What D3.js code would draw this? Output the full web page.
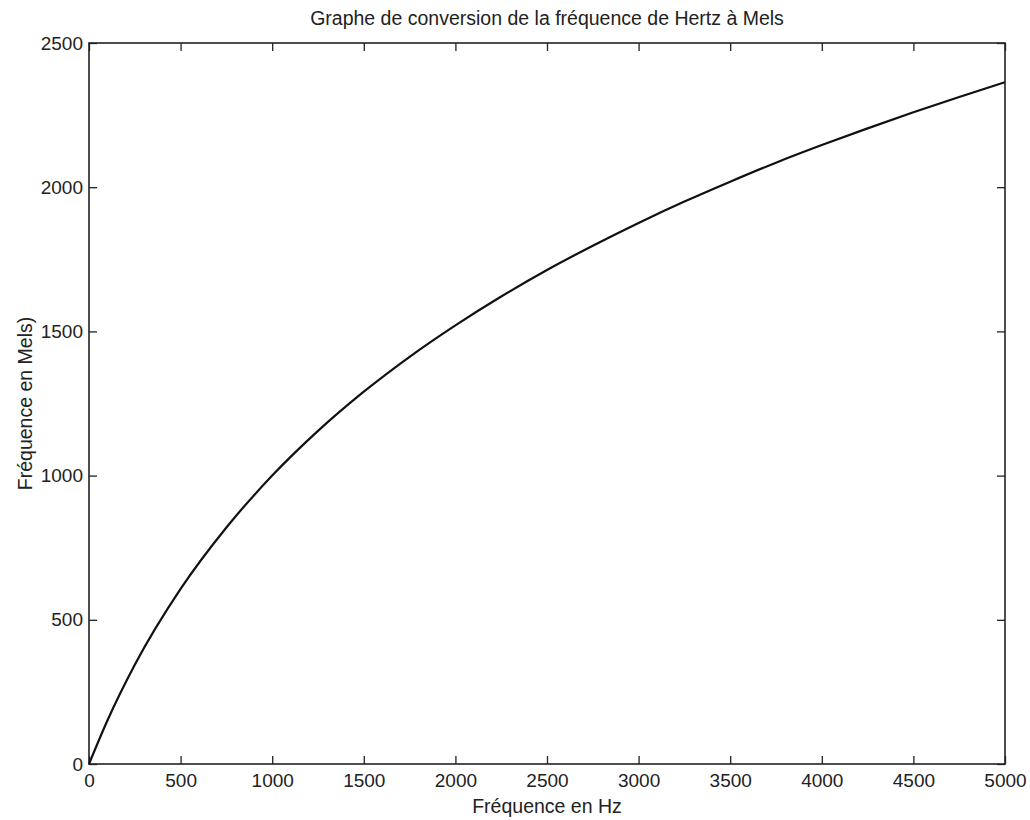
<!DOCTYPE html>
<html>
<head>
<meta charset="utf-8">
<script src="https://cdn.jsdelivr.net/npm/d3@7"></script>
<style>
  body { margin: 0; background: #fff; }
  text { font-family: "Liberation Sans", Arial, sans-serif; fill: #222; }
</style>
</head>
<body>
<svg id="chart"></svg>
<script>
// values (Hz -> Mels)
const hertz = [0, 100, 250, 500, 750, 1000, 1250, 1500, 1750, 2000, 2250, 2500,
    2750, 3000, 3250, 3500, 3750, 4000, 4250, 4500, 4750, 5000];
const mels = [0, 150, 344, 607, 820, 1000, 1155, 1291, 1412, 1521, 1621, 1713,
    1797, 1876, 1950, 2019, 2085, 2146, 2204, 2260, 2313, 2364];
const xTicks = [0, 500, 1000, 1500, 2000, 2500, 3000, 3500, 4000, 4500, 5000];
const yTicks = [0, 500, 1000, 1500, 2000, 2500];

const size = { w: 1030, h: 820 };
const margin = { t: 43, r: 25, b: 56, l: 89 };

const svg = d3.select('svg#chart')
    .attr('width', size.w)
    .attr('height', size.h);

const w = size.w - margin.l - margin.r;
const h = size.h - margin.t - margin.b;

const g = svg.append('g')
    .attr('transform', `translate(${margin.l}, ${margin.t})`);

const x = d3.scaleLinear().domain([0, 5000]).range([0, w]);
const y = d3.scaleLinear().domain([0, 2500]).range([h, 0]);
const fmt = d3.format('d');

// axes with inward ticks, mirrored on top / right like matlab
function styleAxis(sel) {
    sel.select('.domain').remove();
    sel.selectAll('line').attr('stroke', '#222').attr('stroke-width', 1.3);
    sel.selectAll('text').style('font-size', '19px');
}

g.append('g')
    .attr('transform', `translate(0, ${h})`)
    .call(d3.axisBottom(x).tickValues(xTicks).tickFormat(fmt).tickSizeInner(-8).tickSizeOuter(0).tickPadding(10))
    .call(styleAxis);

g.append('g')
    .call(d3.axisTop(x).tickValues(xTicks).tickSizeInner(-8).tickSizeOuter(0).tickFormat(''))
    .call(styleAxis);

g.append('g')
    .call(d3.axisLeft(y).tickValues(yTicks).tickFormat(fmt).tickSizeInner(-8).tickSizeOuter(0).tickPadding(6))
    .call(styleAxis);

g.append('g')
    .attr('transform', `translate(${w}, 0)`)
    .call(d3.axisRight(y).tickValues(yTicks).tickSizeInner(-8).tickSizeOuter(0).tickFormat(''))
    .call(styleAxis);

// box
g.append('rect')
    .attr('width', w)
    .attr('height', h)
    .attr('fill', 'none')
    .attr('stroke', '#222')
    .attr('stroke-width', 1.6);

// the curve
const pts = hertz.map((d, i) => ({ f: d, m: mels[i] }));
g.append('path')
    .datum(pts)
    .attr('fill', 'none')
    .attr('stroke', '#111')
    .attr('stroke-width', 2.2)
    .attr('d', d3.line().x(d => x(d.f)).y(d => y(d.m)).curve(d3.curveMonotoneX));

// labels
svg.append('text')
    .attr('x', margin.l + w / 2)
    .attr('y', 25)
    .attr('text-anchor', 'middle')
    .style('font-size', '19.5px')
    .text('Graphe de conversion de la fréquence de Hertz à Mels');

svg.append('text')
    .attr('x', margin.l + w / 2)
    .attr('y', 813)
    .attr('text-anchor', 'middle')
    .style('font-size', '19.5px')
    .text('Fréquence en Hz');

svg.append('text')
    .attr('transform', `translate(32, ${margin.t + h / 2}) rotate(-90)`)
    .attr('text-anchor', 'middle')
    .style('font-size', '19.5px')
    .text('Fréquence en Mels)');
</script>
</body>
</html>
